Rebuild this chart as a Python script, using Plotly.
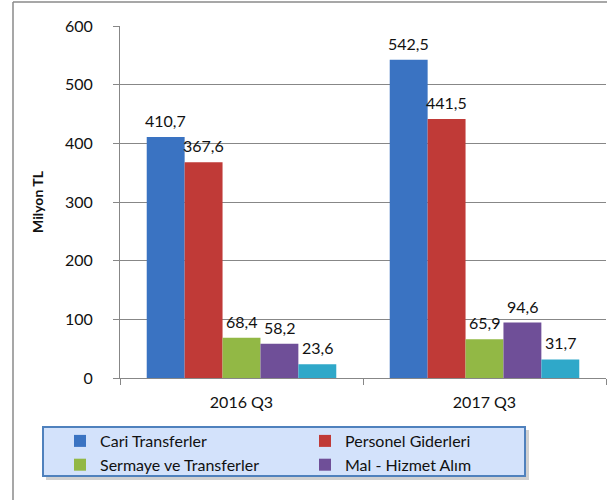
import plotly.graph_objects as go

categories = ["2016 Q3", "2017 Q3"]
series_names = ["Cari Transferler", "Personel Giderleri", "Sermaye ve Transferler", "Mal - Hizmet Alım", ""]
cari = [410.7, 542.5]
personel = [367.6, 441.5]
sermaye = [68.4, 65.9]
mal = [58.2, 94.6]
diger = [23.6, 31.7]
y_ticks = [0, 100, 200, 300, 400, 500, 600]

colors = ["#3A73C2", "#C03A37", "#92B845", "#6F4F98", "#2FA8C9"]
FONT = "Lato"
BARGAP = 0.22
all_series = [cari, personel, sermaye, mal, diger]
n_series = len(all_series)
bar_frac = (1 - BARGAP) / n_series

fig = go.Figure()
annotations = []
for k, (name, vals, col) in enumerate(zip(series_names, all_series, colors)):
    fig.add_trace(go.Bar(
        x=categories, y=vals, name=name,
        marker=dict(color=col, line=dict(width=0)),
        showlegend=bool(name),
    ))
    for i, v in enumerate(vals):
        annotations.append(dict(
            x=i + (k - (n_series - 1) / 2) * bar_frac, y=v, xref="x", yref="y",
            text=f"{v:.1f}".replace(".", ","), showarrow=False,
            yanchor="bottom", yshift=5,
            font=dict(family=FONT, size=16, color="#111111"),
        ))

W, H = 607, 500
L, R, T, B = 120, 1, 26, 122
pw, ph = W - L - R, H - T - B

def px_x(x):
    return (x - L) / pw

def px_y(y):
    return (H - B - y) / ph

shapes = [
    dict(type="line", xref="paper", yref="paper", x0=px_x(13), x1=px_x(W + 5), y0=px_y(2), y1=px_y(2),
         line=dict(color="#8A8A8A", width=1.5)),
    dict(type="line", xref="paper", yref="paper", x0=px_x(13), x1=px_x(13), y0=px_y(2), y1=px_y(H + 5),
         line=dict(color="#8A8A8A", width=1.5)),
    dict(type="rect", xref="paper", yref="paper", x0=px_x(46), x1=px_x(529), y0=px_y(430), y1=px_y(480),
         line=dict(width=0), fillcolor="rgba(120,120,120,0.35)", layer="below"),
    dict(type="rect", xref="paper", yref="paper", x0=px_x(43), x1=px_x(525), y0=px_y(427), y1=px_y(476),
         line=dict(color="#4F81BD", width=2), fillcolor="#D3E2FB", layer="below"),
]

fig.update_layout(
    width=W, height=H,
    margin=dict(l=L, r=R, t=T, b=B),
    paper_bgcolor="white", plot_bgcolor="white",
    font=dict(family=FONT, size=16, color="#111111"),
    barmode="group", bargap=BARGAP, bargroupgap=0,
    shapes=shapes, annotations=annotations,
    showlegend=True,
    legend=dict(
        orientation="h", x=px_x(60), xanchor="left", y=px_y(424), yanchor="top",
        bgcolor="rgba(0,0,0,0)", borderwidth=0,
        entrywidth=200, entrywidthmode="pixels",
        font=dict(family=FONT, size=16, color="#111111"),
        traceorder="normal", tracegroupgap=0,
    ),
    xaxis=dict(
        type="category", showline=True, linecolor="#878787", linewidth=1,
        ticks="outside", tickson="boundaries", ticklen=6, tickcolor="#878787",
        showgrid=False, tickfont=dict(family=FONT, size=16), ticklabelstandoff=10,
    ),
    yaxis=dict(
        range=[0, 600], tickvals=y_ticks, showline=True, linecolor="#878787", linewidth=1,
        ticks="outside", ticklen=6, tickcolor="#878787",
        showgrid=True, gridcolor="#878787", gridwidth=1, zeroline=False,
        tickfont=dict(family=FONT, size=16), ticklabelstandoff=17,
        title=dict(text="<b>Milyon TL</b>", font=dict(family=FONT, size=14), standoff=18),
    ),
)

fig.write_html("out.html", config={"displayModeBar": False},
               post_script="document.body.style.margin='0px';")
